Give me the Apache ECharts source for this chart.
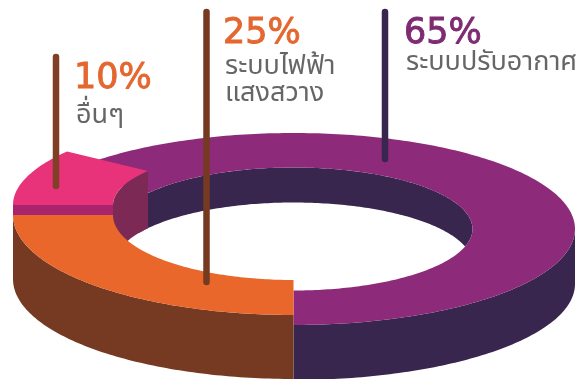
<!DOCTYPE html>
<html>
<head>
<meta charset="utf-8">
<style>html,body{margin:0;padding:0;background:#fff}#chart{width:581px;height:379px}</style>
<script src="https://cdn.jsdelivr.net/npm/echarts@6/dist/echarts.min.js"></script>
</head>
<body>
<div id="chart"></div>
<script>
// Energy use shares, counter-clockwise from the bottom of the ring.
const categories = ['ระบบปรับอากาศ', 'อื่นๆ', 'ระบบไฟฟ้าแสงสว่าง'];
const shares = [65, 10, 25];
const captionLines = [['ระบบปรับอากาศ'], ['อื่นๆ'], ['ระบบไฟฟ้า', 'แสงสวาง']];

// Ring drawing geometry per slice. Each slice sits at its own height.
const rings = [
  { cx: 293.5, cy: 229, rx: 281.5, ry: 96, irx: 179, iry: 61.5, depth: 55, wall: 35, top: '#8e2a7a', side: '#39264f' },
  { cx: 296, cy: 205, rx: 283, ry: 91, irx: 183, iry: 58, depth: 10, wall: 0, top: '#e8327a', side: '#a8246c', inner: '#7c2a55' },
  { cx: 293.5, cy: 215, rx: 280.5, ry: 100, irx: 180.5, iry: 65, depth: 64, wall: 0, top: '#e9672b', side: '#763a22' }
];
// Leader stems and captions per slice.
const callouts = [
  { x: 385, y0: 12, y1: 159, stem: '#39264f', tx: 404, ty: 51, pct: '#7e2b72', lh: 27, sy: 76 },
  { x: 56, y0: 57, y1: 186, stem: '#7f4027', tx: 74, ty: 96, pct: '#e4672f', lh: 27, sy: 129 },
  { x: 206.5, y0: 12, y1: 282, stem: '#763a22', tx: 223, ty: 51, pct: '#e4672f', lh: 27, sy: 80 }
];
const START_ANGLE = -90;
const PCT_FONT = '400 35px "DejaVu Sans", Lato, sans-serif';
const CAPTION_FONT = '400 27px "Noto Sans", "Noto Sans Thai", Lato, sans-serif';

const total = shares.reduce((a, b) => a + b, 0);
const toAngle = v => echarts.number.linearMap(v, [0, total], [0, 360]);

function arc(cx, cy, rx, ry, a0, a1) {
  const pts = [];
  const n = Math.max(2, Math.ceil(Math.abs(a1 - a0)));
  for (let i = 0; i <= n; i++) {
    const a = (a0 + (a1 - a0) * i / n) * Math.PI / 180;
    pts.push([cx + rx * Math.cos(a), cy - ry * Math.sin(a)]);
  }
  return pts;
}
const poly = (points, fill) => ({ type: 'polygon', shape: { points }, style: { fill }, silent: true });

// The floor of the hole seen through the ring, as y for a given x.
function holeEdge(x) {
  const g = rings[0];
  const t = Math.min(1, Math.abs(x - g.cx) / g.irx);
  return g.cy + g.wall - g.iry * Math.sqrt(1 - t * t);
}

function sliceShape(params, api) {
  const i = params.dataIndex;
  const g = rings[i];
  let before = 0;
  for (let k = 0; k < i; k++) before += shares[k];
  const a0 = START_ANGLE + toAngle(before);
  const a1 = a0 + toAngle(api.value(0));
  const children = [];

  // Outer wall: only the part facing the viewer.
  const wa0 = a0 < 0 ? a0 : Math.max(a0, 180);
  const wa1 = a0 < 0 ? Math.min(a1, 0) : Math.min(a1, 360);
  if (wa1 > wa0) {
    children.push(poly(
      arc(g.cx, g.cy, g.rx, g.ry, wa0, wa1).concat(arc(g.cx, g.cy + g.depth, g.rx, g.ry, wa1, wa0)),
      g.side
    ));
  }
  // Inner wall across the far side of the hole; runs on a little behind the next slice.
  if (g.wall) {
    const cross = Math.asin(g.wall / (2 * g.iry)) * 180 / Math.PI;
    const end = a1 + 6;
    children.push(poly(
      arc(g.cx, g.cy, g.irx, g.iry, -cross, end).concat(arc(g.cx, g.cy + g.wall, g.irx, g.iry, end, cross)),
      g.side
    ));
  }
  // Raised slice: its inner wall drops to the hole floor, its cut face to the next slice.
  if (g.inner) {
    const upper = arc(g.cx, g.cy, g.irx, g.iry, a0, a1);
    const lower = upper.map(p => [p[0], holeEdge(p[0])]).reverse();
    children.push(poly(upper.concat(lower), g.inner));
    const c = Math.cos(a1 * Math.PI / 180);
    const xo = g.cx + g.rx * c, xi = g.cx + g.irx * c;
    children.push(poly([[xo, g.cy], [xi, g.cy], [xi, g.cy + g.depth], [xo, g.cy + g.depth]], g.side));
  }
  // Top face.
  children.push(poly(
    arc(g.cx, g.cy, g.rx, g.ry, a0, a1).concat(arc(g.cx, g.cy, g.irx, g.iry, a1, a0)),
    g.top
  ));
  return { type: 'group', children };
}

function calloutShape(params, api) {
  const i = params.dataIndex;
  const c = callouts[i];
  const children = [
    { type: 'line', shape: { x1: c.x, y1: c.y0, x2: c.x, y2: c.y1 }, style: { stroke: c.stem, lineWidth: 6.5, lineCap: 'round' }, silent: true },
    { type: 'text', style: { text: api.value(0) + '%', x: c.tx, y: c.ty, font: PCT_FONT, fill: c.pct, stroke: c.pct, lineWidth: 0.9, textVerticalAlign: 'bottom' }, silent: true }
  ];
  captionLines[i].forEach((line, n) => {
    children.push({ type: 'text', style: { text: line, x: c.tx + 2, y: c.sy + n * c.lh, font: CAPTION_FONT, fill: '#666666', textVerticalAlign: 'bottom' }, silent: true });
  });
  return { type: 'group', children };
}

const chart = echarts.init(document.getElementById('chart'));
chart.setOption({
  animation: false,
  backgroundColor: '#ffffff',
  tooltip: { show: false },
  series: [
    { type: 'custom', coordinateSystem: 'none', renderItem: sliceShape, z: 1,
      data: shares.map((v, i) => ({ name: categories[i], value: [v] })) },
    { type: 'custom', coordinateSystem: 'none', renderItem: calloutShape, z: 2,
      data: shares.map((v, i) => ({ name: categories[i], value: [v] })) }
  ]
});
</script>
</body>
</html>
